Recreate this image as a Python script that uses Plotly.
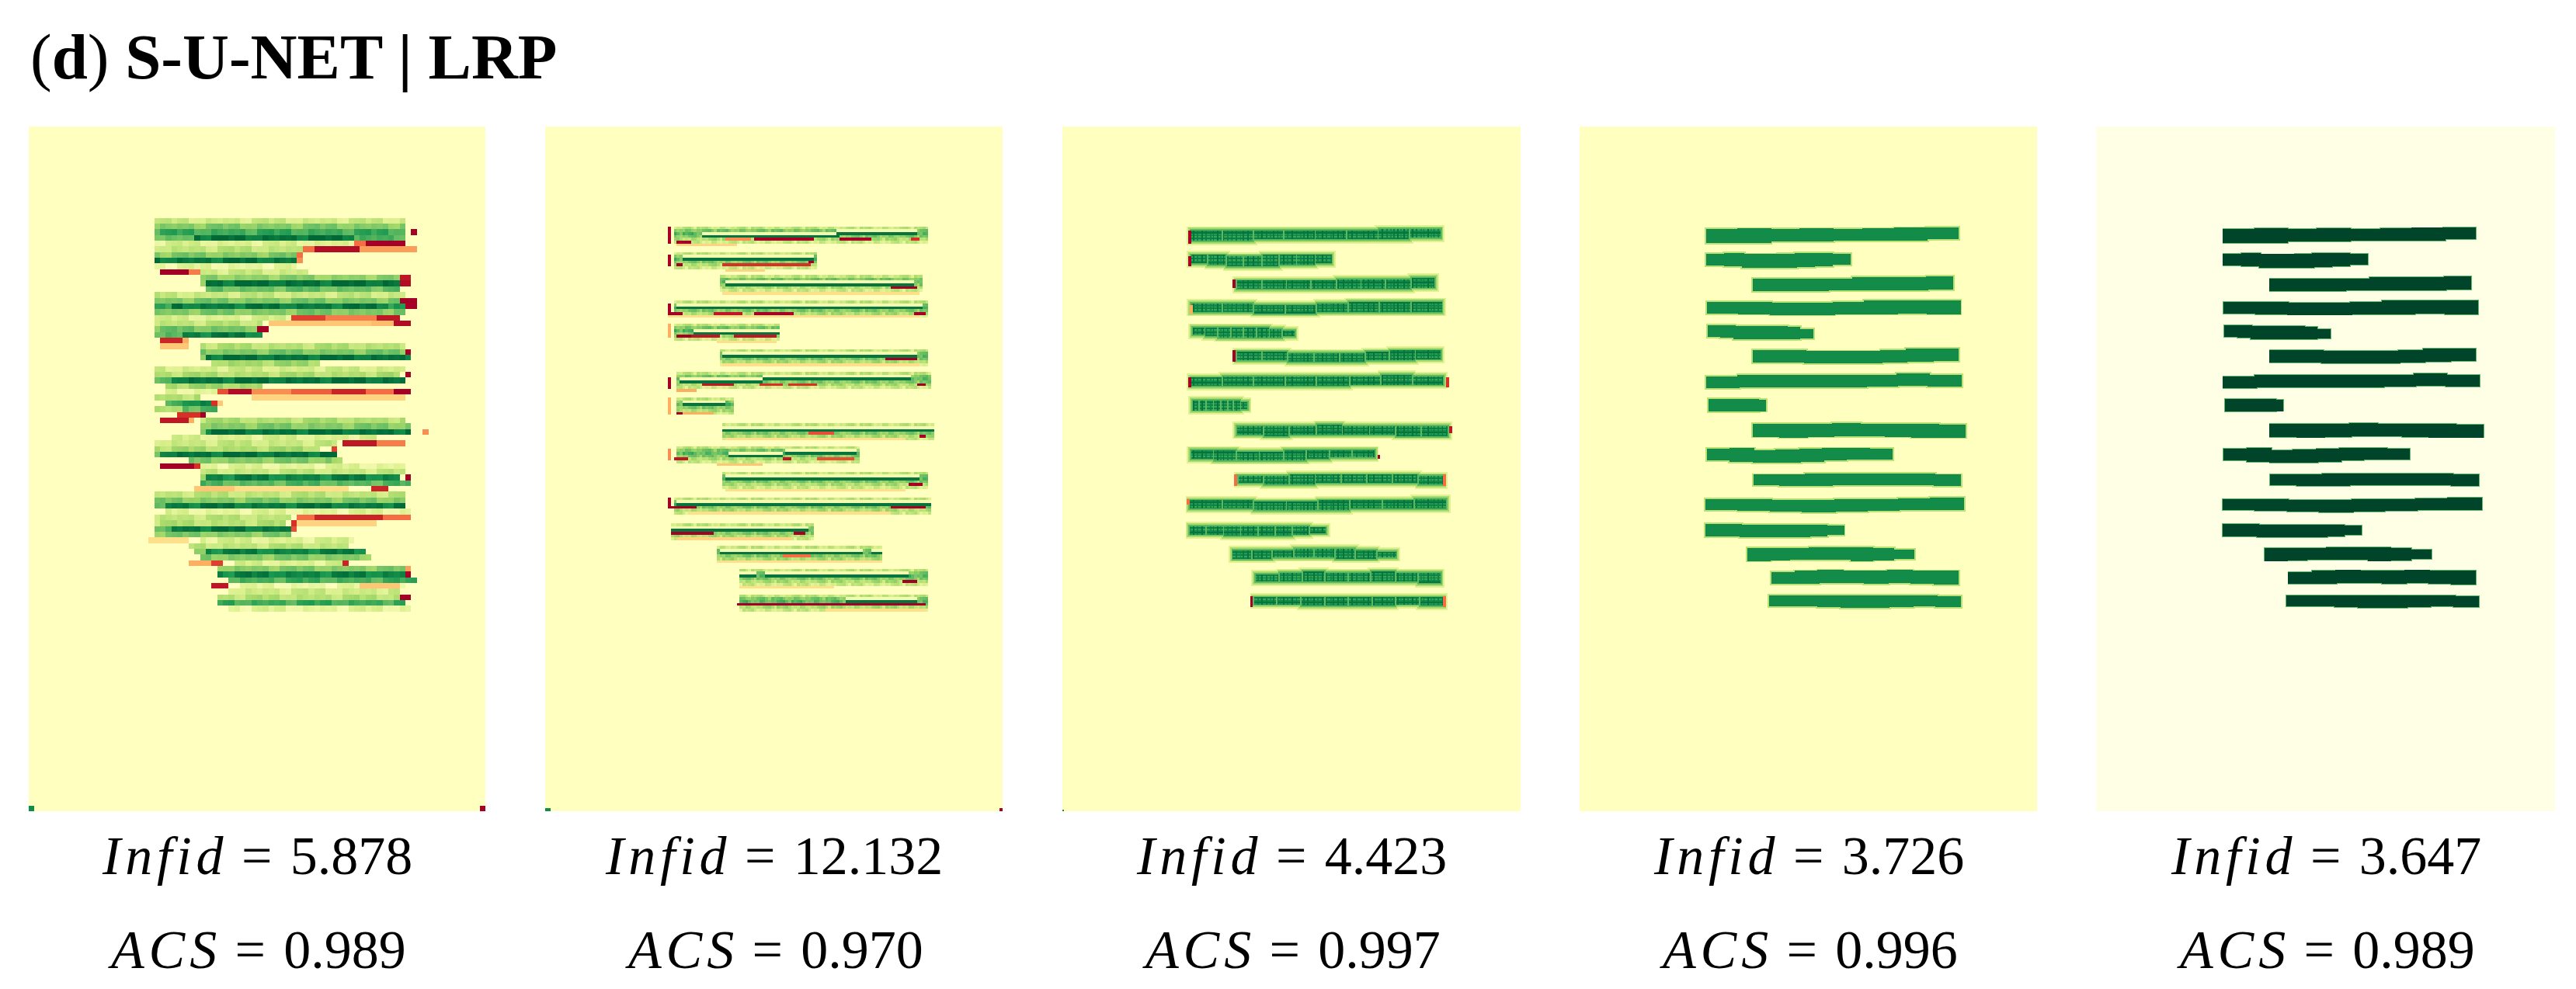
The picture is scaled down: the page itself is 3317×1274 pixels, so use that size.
import numpy as np
import plotly.graph_objects as go

PAGE_MARGIN = 8
W, H = 3301, 1258
infid_values = ["5.878", "12.132", "4.423", "3.726", "3.647"]
acs_values = ["0.989", "0.970", "0.997", "0.996", "0.989"]
panel_left = [37, 702, 1368, 2034, 2699]
panel_right = [625, 1291, 1958, 2623, 3290]
panel_top, panel_bottom = 163, 1045

rdylgn = ["#a50026", "#d73027", "#f46d43", "#fdae61", "#fee08b", "#ffffbf",
          "#d9ef8b", "#a6d96a", "#66bd63", "#1a9850", "#006837"]
ylgn = ["#ffffe5", "#f7fcb9", "#d9f0a3", "#addd8e", "#78c679", "#41ab5d",
        "#238443", "#006837", "#004529"]

# text-line geometry, in panel pixels (588 x 882)
line_x0 = [164, 164, 224, 165, 166, 224, 164, 167, 224, 165, 225, 163, 163, 217, 248, 245]
line_x1 = [486, 347, 479, 488, 299, 486, 490, 238, 495, 401, 489, 493, 339, 429, 486, 489]
line_top = [
    [133.3, 132.7, 134, 133, 133.3, 132.7, 132, 131.3],
    [165.3, 164.3, 166, 166, 164.7, 164.3, 164.3, 165.3],
    [197.3, 197.3, 197.3, 197.3, 195.3, 195.3, 195.3, 194.7],
    [227, 227, 228, 228, 227, 226, 226, 226],
    [257.3, 257.3, 258.7, 258.7, 258.7, 258.7, 259.3, 262],
    [289.3, 289.3, 290.7, 290.7, 290.7, 289.3, 287.3, 287.3],
    [322.7, 320.7, 320.7, 321.3, 321.3, 320.7, 319.3, 320.7],
    [352, 352, 352, 352, 352, 352, 352, 353],
    [384.7, 384.7, 384.7, 384, 384.7, 384.7, 384.7, 385.3],
    [416.7, 416, 418.7, 418, 416.7, 415.3, 415.3, 417],
    [449.3, 449.3, 448, 448, 448, 448, 448, 449.3],
    [480.7, 480.7, 482, 482, 481.3, 480.7, 480, 479.3],
    [512.7, 512.7, 514, 514, 514, 514, 514, 515.3],
    [544, 544, 544, 543.3, 543.3, 543.3, 544, 546],
    [575.3, 574, 572.7, 573.3, 574, 572.7, 573.3, 573.3],
    [604.7, 604.7, 604.7, 605.3, 605.3, 605.3, 605.3, 606],
]
line_bottom = [
    [148, 148, 146.7, 146.7, 146, 146, 145.3, 144],
    [178, 178.7, 180.3, 180.3, 180.3, 179.3, 178.7, 177.3],
    [210.7, 211.3, 210.7, 210, 210, 209.7, 210.3, 209.3],
    [239.3, 240.7, 241.3, 241.3, 240, 240, 239.3, 240.7],
    [270, 270.7, 272, 272, 272, 272, 272, 271.3],
    [302.7, 302.7, 304, 304, 304, 302.7, 302, 301.3],
    [336, 335.3, 334.7, 334.7, 334.7, 334, 333.3, 334],
    [366, 366, 366, 366, 366, 366, 366, 365],
    [398.7, 399.3, 398.7, 397.3, 397.3, 398.7, 399.3, 399.3],
    [428.7, 430, 431.3, 431.3, 430, 428.7, 428, 428],
    [460.7, 461.3, 461.3, 460.7, 460.7, 460.7, 460.7, 461.3],
    [493.3, 494, 494.7, 495.3, 494.7, 494, 493.3, 492.7],
    [526.7, 526.7, 527.7, 527.7, 527.7, 527.7, 527, 525.3],
    [558, 557.3, 556.7, 556.7, 556.7, 558, 557.3, 555.3],
    [587.3, 587.3, 586.7, 586.7, 587.3, 586.7, 587.3, 588.7],
    [617.3, 617.3, 618, 618.7, 618.7, 618, 617.3, 618],
]

# panel 1: 80 x 120 cells, (row, first col, last col, value)
p1_stripes = [
    (16,22,65,.24),(17,22,65,.5),(18,22,65,.7),(18,67,67,-1),(19,22,28,.58),(19,29,56,.95),(19,57,65,.68),
    (20,22,56,.18),(20,57,58,-.6),(20,59,65,-1),(21,22,47,.3),(21,48,49,-.6),(21,50,57,-.95),(21,58,67,-.45),
    (22,22,46,.5),(22,47,47,-.6),(23,22,46,.93),(23,47,47,-.5),(24,22,46,.12),(25,23,27,-1),(25,28,29,-.55),(25,30,48,.24),
    (26,30,64,.46),(26,65,66,-.9),(27,30,30,.46),(27,31,64,.96),(27,65,66,-.95),(28,31,64,.58),
    (29,22,65,.26),(30,22,65,.52),(30,65,67,-1),(31,22,24,.68),(31,25,62,.92),(31,63,65,.78),(31,66,67,-1),(32,22,65,.52),
    (33,22,45,.18),(33,46,51,-.75),(33,52,60,-.55),(33,61,64,-.9),(34,22,40,.3),(34,42,59,-.3),(34,60,63,-.35),(34,64,66,-.95),
    (35,22,39,.55),(35,40,41,-1),(36,22,26,.63),(36,27,40,.9),(37,23,26,-.85),(37,27,27,-.4),(38,23,27,-.3),(38,30,65,.33),
    (39,30,65,.52),(39,66,66,-1),(40,30,30,.46),(40,31,66,.95),(41,32,50,.4),
    (42,22,65,.22),(43,22,64,.35),(43,66,66,-1),(44,22,24,.58),(44,25,65,.95),(45,24,40,.4),
    (46,24,32,.14),(46,33,34,-.7),(46,35,38,-.95),(46,39,45,-.5),(46,46,52,-.65),(46,53,58,-.85),(46,59,64,-.6),(46,64,66,-1),
    (47,22,29,.35),(47,39,65,-.25),(48,24,26,.63),(48,27,31,.88),(48,32,32,-.8),(48,33,33,-.3),(49,22,26,.35),(49,27,32,.63),
    (50,26,29,-.8),(50,30,30,-1),(51,23,27,-.9),(51,28,28,-.4),(51,30,65,.35),(52,30,66,.5),
    (53,30,30,.58),(53,31,66,.95),(53,69,69,-.5),(54,25,60,.18),(55,22,53,.26),(55,55,60,-.9),(55,61,65,-.55),
    (56,22,50,.37),(56,53,53,-.75),(57,22,22,.46),(57,23,53,.95),(58,28,52,.5),(58,53,54,.4),
    (59,23,28,-1),(59,29,29,-.8),(59,30,65,.14),(60,30,65,.26),(61,30,30,.46),(61,31,64,.88),(61,66,66,-1),(62,30,66,.63),
    (63,29,35,-.3),(63,36,55,-.2),(63,60,62,-.85),(64,22,65,.3),(65,22,65,.5),(66,22,23,.58),(66,24,65,.92),(67,24,66,.14),
    (68,22,45,.3),(68,47,49,-.6),(68,50,61,-.85),(68,62,66,-.6),(69,22,44,.33),(69,46,46,-.8),(69,47,60,-.25),
    (70,22,24,.63),(70,25,45,.93),(70,46,46,-.7),(71,22,45,.5),(72,21,27,-.2),(72,30,56,.18),(73,28,55,.3),
    (74,29,30,.46),(74,31,58,.88),(75,30,59,.5),(76,28,31,-.4),(76,32,33,-.75),(76,36,55,.18),(76,55,55,-.85),
    (77,33,66,.5),(77,66,66,-.45),(78,33,65,.88),(78,66,66,-1),(79,35,67,.68),
    (80,32,34,-.9),(80,36,65,.1),(80,58,64,-.3),(81,35,64,.24),(82,33,64,.33),(82,65,66,-1),(83,33,65,.7),(84,35,66,.14),
    (119,0,0,.85),(119,79,79,-1),
]
p1_mottle = [0, .04, -.08, .06, 0, -.1, .08, -.03, .05, -.07, .02, .07, -.05, 0, .09, -.06, .03]

# panel 2: 160 x 240 cells
p2_top = [35, 44, 52, 61, 69, 78, 86, 95, 104, 112, 121, 130, 139, 147, 155, 164]
p2_c0 = [45, 45, 61, 45, 45, 61, 46, 46, 62, 46, 62, 45, 44, 60, 68, 68]
p2_c1 = [133, 94, 131, 133, 81, 133, 134, 65, 135, 109, 133, 134, 93, 117, 133, 133]
p2_band = [.28, .52, .62, .5, .36, .24]
p2_dark = [(38,55,102),(37,102,129),(46,48,93),(55,63,128),(63,46,131),(72,52,81),(80,62,129),(89,47,75),(88,76,127),
           (97,48,62),(106,62,135),(115,64,82),(114,84,108),(123,63,130),(132,46,134),(141,44,91),(149,61,110),
           (149,114,117),(157,77,126),(157,68,73),(166,105,129)]
p2_warm = [(39,63,71,-.5),(39,73,83,-1),(39,84,93,-1),(39,103,113,-1),(39,128,130,-.8),(40,46,50,-1),(41,46,66,-.25),
           (47,92,93,-1),(48,62,92,-.8),(48,46,47,-1),(50,63,76,-.25),(56,121,129,-1),(58,62,130,-.2),
           (65,43,47,-1),(65,59,68,-.9),(65,73,86,-1),(65,129,132,-1),(66,43,130,-.2),
           (73,46,50,-1),(73,51,60,-.9),(73,66,80,-.9),(75,60,80,-.2),(81,119,129,-1),(83,62,130,-.2),
           (90,55,65,-.9),(90,75,82,-.8),(90,85,94,-.8),(90,130,132,-1),(92,46,52,-.4),(100,46,48,-1),(100,48,58,-.4),
           (107,92,100,-.7),(108,131,132,-1),(109,63,125,-.2),(116,45,49,-.9),(116,95,107,-.7),(116,83,85,-.9),(118,60,75,-.3),
           (125,127,131,-1),(127,63,125,-.2),(133,43,52,-1),(133,121,132,-1),(135,50,120,-.2),
           (142,44,58,-1),(142,87,90,-1),(144,46,85,-.25),(150,83,92,-.6),(152,60,117,-.2),(159,125,129,-1),(161,68,100,-.2),
           (167,67,132,-1),(169,98,132,-.2),(239,0,1,.85),(239,159,159,-1)]
p2_bars = [(35,40,-1),(45,48,-1),(62,65,-1),(88,91,-1),(69,73,-.4),(95,100,-.4),(113,116,-.5),(130,133,-1)]
p2_mottle = [0, .05, -.1, .08, -.04, .1, -.08, 0, .06, -.12, .04, .09, -.06, .02, -.09, .07, -.02, .11, -.05]

# panel 3: 320 x 480 cells; hatch sampled from the first line in the reference
p3_hatch = [.92, .72, .68, .95, .7, .82, .66, .95, .74, .66, .88, .68, .76, .95, .66, .7, .9, .68, .66, .85, .72]
p3_rows = [.72, .9, .72, .85, .95, .78, .88]
p3_marks = [(162, 135, 150, -1), (162, 168, 180, -1), (220, 198, 207, -1), (165, 230, 240, -.4), (220, 290, 303, -1),
            (162, 325, 335, -1), (493, 325, 335, -.8), (497, 386, 394, -.9), (405, 424, 427, -1), (222, 449, 462, -.6),
            (490, 449, 462, -.6), (242, 605, 618, -1), (490, 605, 618, -.6), (160, 480, 486, -.6)]


def segments(i):
    x0, x1 = line_x0[i], line_x1[i]
    n = len(line_top[i])
    edges = [x0 + (x1 - x0) * k / n for k in range(n + 1)]
    return [(edges[k], edges[k + 1], line_top[i][k], line_bottom[i][k]) for k in range(n)]


def make_panel1():
    z = np.zeros((120, 80))
    for r, c0, c1, v in p1_stripes:
        for c in range(c0, c1 + 1):
            m = p1_mottle[(c * 3 + r * 7) % len(p1_mottle)] if v > 0 else 0
            z[r, c] = v + m
    return z


def make_panel2():
    z = np.zeros((240, 160))
    for top, c0, c1 in zip(p2_top, p2_c0, p2_c1):
        for k, v in enumerate(p2_band):
            for c in range(c0, c1 + 1):
                z[top + k, c] = v + p2_mottle[(c * 2 + k * 5) % len(p2_mottle)]
    for r, c0, c1 in p2_dark:
        z[r - 1, c0:c1 + 1] = .06
        z[r, c0:c1 + 1] = .95
    for r, c0, c1, v in p2_warm:
        z[r, c0:c1 + 1] = v
    for r0, r1, v in p2_bars:
        z[r0:r1 + 1, 43:44] = v
    return z


def make_solid(rings, nc, nr):
    """rings: outermost first, (cells of padding around the outline, value)"""
    cell = 588 / nc
    z = np.zeros((nr, nc))
    for pad, v in rings:
        for i in range(len(line_x0)):
            for a, b, t, u in segments(i):
                c0, c1 = int(a / cell) - pad, int(b / cell) + pad
                r0, r1 = int(t / cell) - pad, int(u / cell) + pad
                z[r0:r1 + 1, c0:c1 + 1] = v
    return z


def make_panel3():
    cell = 588 / 320
    z = make_solid([(2, .16), (1, .38), (0, .62)], 320, 480)
    for i in range(len(line_x0)):
        for a, b, t, u in segments(i):
            c0, c1 = int(a / cell) + 1, int(b / cell)
            r0, r1 = int(t / cell) + 1, int(u / cell)
            for r in range(r0, r1):
                for c in range(c0, c1):
                    z[r, c] = max(p3_hatch[c % len(p3_hatch)], p3_rows[r % len(p3_rows)])
    for x, y0, y1, v in p3_marks:
        c = int(x / cell)
        z[int(y0 / cell):int(y1 / cell) + 1, c:c + 2] = v
    z[479, 0] = .85
    return z


panels = [make_panel1(), make_panel2(), make_panel3(),
          make_solid([(3, .33), (1, .87), (0, .85)], 640, 960),
          make_solid([(2, .55), (1, 1.0)], 640, 960)]
scales = [rdylgn, rdylgn, rdylgn, rdylgn, ylgn]
zranges = [(-1, 1), (-1, 1), (-1, 1), (-1, 1), (0, 1)]
HS = "\u200a"
infid_label = f"<i>I{HS}n{HS}f{HS}i{HS}d</i> {HS}={HS} "
acs_label = f"<i>A{HS}C{HS}S</i> {HS}={HS} "
label_font = dict(family="Liberation Serif", size=70, color="black")

fig = go.Figure()
layout = dict(width=W, height=H, margin=dict(l=0, r=0, t=0, b=0), paper_bgcolor="white", plot_bgcolor="white",
              showlegend=False)
annotations = []
for i, (z, sc, zr) in enumerate(zip(panels, scales, zranges)):
    n = "" if i == 0 else str(i + 1)
    fig.add_trace(go.Heatmap(z=z.astype(np.float32), colorscale=[[j / (len(sc) - 1), c] for j, c in enumerate(sc)],
                             zmin=zr[0], zmax=zr[1], showscale=False, hoverinfo="skip", xaxis="x" + n, yaxis="y" + n))
    layout["xaxis" + n] = dict(domain=[(panel_left[i] - PAGE_MARGIN) / W, (panel_right[i] - PAGE_MARGIN) / W],
                               range=[-.5, z.shape[1] - .5], visible=False, anchor="y" + n)
    layout["yaxis" + n] = dict(domain=[1 - (panel_bottom - PAGE_MARGIN) / H, 1 - (panel_top - PAGE_MARGIN) / H],
                               range=[z.shape[0] - .5, -.5], visible=False, anchor="x" + n)
    cx = ((panel_left[i] + panel_right[i]) / 2 - PAGE_MARGIN) / W
    annotations.append(dict(x=cx, y=1 - (1102 - PAGE_MARGIN) / H, xref="paper", yref="paper", showarrow=False,
                            xanchor="center", yanchor="middle", text=infid_label + infid_values[i], font=label_font))
    annotations.append(dict(x=cx, y=1 - (1223 - PAGE_MARGIN) / H, xref="paper", yref="paper", showarrow=False,
                            xanchor="center", yanchor="middle", text=acs_label + acs_values[i], font=label_font))
annotations.append(dict(x=(37 - PAGE_MARGIN) / W, y=1 - (73 - PAGE_MARGIN) / H, xref="paper", yref="paper", showarrow=False,
                        xanchor="left", yanchor="middle", text="(<b>d</b>) <b>S-U-NET | LRP</b>",
                        font=dict(family="Liberation Serif", size=83, color="black")))
fig.update_layout(annotations=annotations, **layout)
fig.write_html("out.html")
